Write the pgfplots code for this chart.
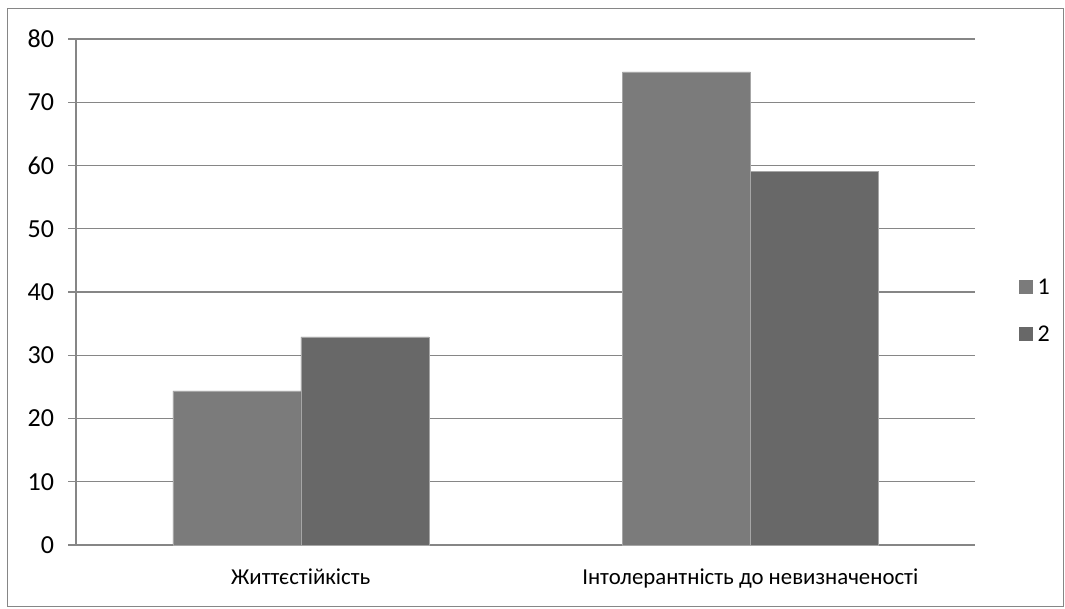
\documentclass[border=0pt]{standalone}
\usepackage{fontspec}
\setmainfont{Carlito}
\usepackage{pgfplots}
\pgfplotsset{compat=1.18}
\definecolor{barA}{HTML}{7B7B7B}
\definecolor{barB}{HTML}{686868}
\definecolor{gridc}{HTML}{868686}
\begin{document}
\begin{tikzpicture}
\useasboundingbox (-76pt,-63pt) rectangle (989pt,545pt);
\draw[gridc, line width=1pt] (-68pt,-61.5pt) rectangle (987.5pt,536pt);
\begin{axis}[
  at={(0pt,0pt)}, anchor=south west,
  scale only axis, width=899pt, height=506pt,
  xmin=-0.5, xmax=1.5, ymin=0, ymax=80,
  ybar=0pt, bar width=128pt,
  axis x line=bottom, axis y line=left,
  axis line style={gridc, line width=1.2pt, -},
  ytick={0,10,...,80},
  ymajorgrids, grid style={gridc, line width=1.2pt},
  tick align=outside,
  major tick length=7.5pt,
  tick style={gridc, line width=1.2pt},
  xtick={0,1},
  xticklabels={Життєстійкість, Інтолерантність до невизначеності},
  xtick style={draw=none},
  extra x ticks={-0.5,0.5,1.5},
  extra x tick labels={},
  extra x tick style={grid=none, tick style={gridc, line width=1.2pt}},
  /pgf/number format/assume math mode=true,
  yticklabel style={font=\fontsize{26}{30}\selectfont, black, xshift=-11pt},
  xticklabel style={font=\fontsize{22.8}{27}\selectfont, black, yshift=-13pt},
  legend style={draw=none, at={(1.045,0.463)}, anchor=west, font=\fontsize{24}{29}\selectfont, row sep=26pt, fill=none},
  legend cell align=left,
  legend image code/.code={\path[#1, draw=none] (0pt,-7pt) rectangle (14pt,7pt); \path[draw=none, fill=none] (0pt,0pt) -- (17pt,0pt);},
]
\addplot[fill=barA, draw=gray!70] coordinates {(0,24.35) (1,74.8)};
\addplot[fill=barB, draw=gray!70] coordinates {(0,32.9) (1,59.1)};
\legend{1,2}
\end{axis}
\end{tikzpicture}
\end{document}
